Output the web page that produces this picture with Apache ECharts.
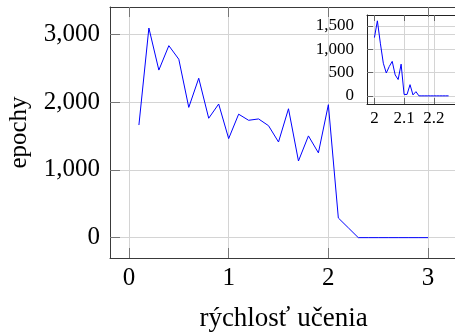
<!DOCTYPE html>
<html>
<head>
<meta charset="utf-8">
<script src="https://cdn.jsdelivr.net/npm/echarts@6/dist/echarts.min.js"></script>
<style>
  html, body { margin: 0; padding: 0; background: #fff; }
  #chart { width: 455px; height: 334px; }
</style>
</head>
<body>
<div id="chart"></div>
<script>
// hlavny graf: rychlost ucenia vs. pocet epoch
var rates = [0.1, 0.2, 0.3, 0.4, 0.5, 0.6, 0.7, 0.8, 0.9, 1.0,
  1.1, 1.2, 1.3, 1.4, 1.5, 1.6, 1.7, 1.8, 1.9, 2.0,
  2.1, 2.2, 2.3, 2.4, 2.5, 2.6, 2.7, 2.8, 2.9, 3.0]
var epochs = [1660, 3090, 2470, 2830, 2630, 1920, 2350, 1760, 1970, 1460,
  1820, 1730, 1750, 1650, 1410, 1900, 1130, 1500, 1250, 1960,
  290, 145, 0, 0, 0, 0, 0, 0, 0, 0]
var mainXTicks = [0, 1, 2, 3]
var mainYTicks = [0, 1000, 2000, 3000]

// vlozeny graf: detail okolo 2.0 - 2.25
var insetRates = [2.00, 2.01, 2.02, 2.03, 2.04, 2.05, 2.06, 2.07, 2.08, 2.09,
  2.10, 2.11, 2.12, 2.13, 2.14, 2.15, 2.16, 2.17, 2.18, 2.19,
  2.20, 2.21, 2.22, 2.23, 2.24, 2.25]
var insetEpochs = [1250, 1610, 1130, 700, 490, 630, 740, 450, 350, 680,
  30, 30, 240, 20, 90, 0, 0, 0, 0, 0,
  0, 0, 0, 0, 0, 0]
var insetXTicks = [2, 2.1, 2.2]
var insetYTicks = [0, 500, 1000, 1500]

var font = 'Liberation Serif'
var frameColor = '#3a3a3a'
var gridColor = '#d4d4d4'

function thousands (v) {
  return String(v).replace(/\B(?=(\d{3})+(?!\d))/g, ',')
}

function pairs (xs, ys) {
  return xs.map(function (x, i) { return [x, ys[i]] })
}

var myChart = echarts.init(document.getElementById('chart'))
var option = {
  animation: false,
  textStyle: { fontFamily: font, color: '#000' },
  grid: [
    { left: 110, top: 7, right: -2, bottom: 76, outerBoundsMode: 'none', containLabel: false },
    { left: 367, top: 15, right: -1, bottom: 230, outerBoundsMode: 'none', containLabel: false }
  ],
  xAxis: [
    {
      type: 'value', gridIndex: 0, min: -0.19, max: 3.29,
      name: 'rýchlosť učenia', nameLocation: 'middle', nameGap: 47,
      nameTextStyle: { fontSize: 27, fontFamily: font, color: '#000' },
      axisLine: { show: true, onZero: false, lineStyle: { color: frameColor, width: 1 } },
      axisTick: { show: true, inside: true, length: 10, customValues: mainXTicks, lineStyle: { color: '#777' } },
      axisLabel: { customValues: mainXTicks, fontSize: 25, margin: 8, color: '#000' },
      splitLine: { show: true, lineStyle: { color: gridColor, width: 1 } }
    },
    {
      type: 'value', gridIndex: 0, position: 'top', min: -0.19, max: 3.29,
      axisLine: { show: true, onZero: false, lineStyle: { color: frameColor, width: 1 } },
      axisTick: { show: true, inside: true, length: 10, customValues: mainXTicks, lineStyle: { color: '#777' } },
      axisLabel: { show: false },
      splitLine: { show: false }
    },
    {
      type: 'value', gridIndex: 1, min: 1.975, max: 2.275,
      axisLine: { show: true, onZero: false, lineStyle: { color: '#222', width: 1 } },
      axisTick: { show: true, inside: true, length: 6, customValues: insetXTicks, lineStyle: { color: '#666' } },
      axisLabel: { customValues: insetXTicks, fontSize: 17, margin: 6, color: '#000' },
      splitLine: { show: true, lineStyle: { color: gridColor, width: 1 } }
    },
    {
      type: 'value', gridIndex: 1, position: 'top', min: 1.975, max: 2.275,
      axisLine: { show: true, onZero: false, lineStyle: { color: '#222', width: 1 } },
      axisTick: { show: true, inside: true, length: 6, customValues: insetXTicks, lineStyle: { color: '#666' } },
      axisLabel: { show: false },
      splitLine: { show: false }
    }
  ],
  yAxis: [
    {
      type: 'value', gridIndex: 0, min: -300, max: 3400,
      name: 'epochy', nameLocation: 'middle', nameGap: 78, nameRotate: 90,
      nameTextStyle: { fontSize: 25, fontFamily: font, color: '#000' },
      axisLine: { show: true, onZero: false, lineStyle: { color: frameColor, width: 1 } },
      axisTick: { show: true, inside: true, length: 10, customValues: mainYTicks, lineStyle: { color: '#777' } },
      axisLabel: { customValues: mainYTicks, fontSize: 25, margin: 10, color: '#000', formatter: thousands },
      splitLine: { show: true, lineStyle: { color: gridColor, width: 1 } }
    },
    {
      type: 'value', gridIndex: 1, min: -175, max: 1735,
      axisLine: { show: true, onZero: false, lineStyle: { color: '#222', width: 1 } },
      axisTick: { show: true, inside: true, length: 6, customValues: insetYTicks, lineStyle: { color: '#666' } },
      axisLabel: { customValues: insetYTicks, fontSize: 17, margin: 13, color: '#000', formatter: thousands },
      splitLine: { show: true, lineStyle: { color: gridColor, width: 1 } }
    }
  ],
  series: [
    {
      type: 'line', xAxisIndex: 0, yAxisIndex: 0,
      data: pairs(rates, epochs),
      showSymbol: false, symbol: 'none',
      lineStyle: { color: '#0000ff', width: 1 }
    },
    {
      type: 'line', xAxisIndex: 2, yAxisIndex: 1,
      data: pairs(insetRates, insetEpochs),
      showSymbol: false, symbol: 'none',
      lineStyle: { color: '#0000ff', width: 1 }
    }
  ]
}
myChart.setOption(option)
</script>
</body>
</html>
